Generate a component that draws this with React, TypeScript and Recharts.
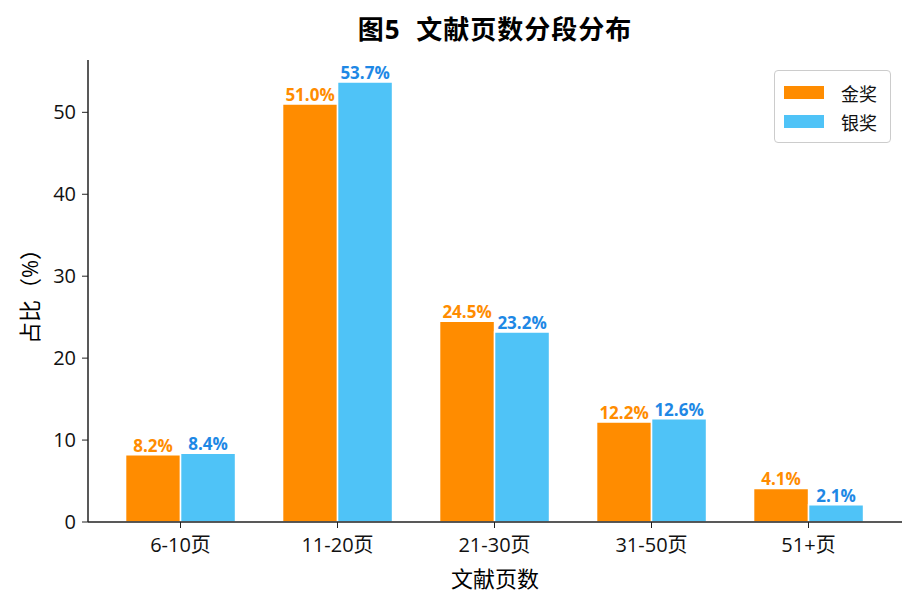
import React from "react";
import { BarChart, Bar, XAxis, YAxis, LabelList } from "recharts";

const categories = ["6-10页", "11-20页", "21-30页", "31-50页", "51+页"];
const gold = [8.2, 51.0, 24.5, 12.2, 4.1];
const silver = [8.4, 53.7, 23.2, 12.6, 2.1];
const yTicks = [0, 10, 20, 30, 40, 50];

const data = categories.map((c, i) => ({ cat: c, gold: gold[i], silver: silver[i] }));

const FONT = "'Open Sans', 'Noto Sans CJK SC', sans-serif";
const ORANGE = "#FF8C00";
const BLUE = "#4FC3F7";

function LegendBox() {
  const items = [
    { name: "金奖", color: ORANGE },
    { name: "银奖", color: BLUE },
  ];
  return (
    <div
      style={{
        position: "absolute",
        left: 766,
        top: 62,
        width: 117,
        height: 73,
        border: "1px solid #cccccc",
        borderRadius: 4,
        background: "#fff",
        boxSizing: "border-box",
        paddingTop: 7,
        fontFamily: FONT,
      }}
    >
      {items.map((it) => (
        <div key={it.name} style={{ display: "flex", alignItems: "center", height: 29 }}>
          <div style={{ width: 40, height: 13, background: it.color, marginLeft: 9 }} />
          <span style={{ marginLeft: 17, fontSize: 18, color: "#111" }}>{it.name}</span>
        </div>
      ))}
    </div>
  );
}

export default function App() {
  return (
    <div style={{ position: "relative", width: 900, height: 594, fontFamily: FONT }}>
      <div
        style={{
          position: "absolute",
          left: 80,
          width: 814,
          top: 7,
          lineHeight: "28px",
          textAlign: "center",
          fontSize: 26,
          fontWeight: "bold",
          letterSpacing: 1,
          color: "#000",
        }}
      >
        图5&nbsp;&nbsp;文献页数分段分布
      </div>
      <div
        style={{
          position: "absolute",
          left: 20,
          top: 283,
          transform: "translate(-50%, -50%) rotate(-90deg)",
          fontSize: 22,
          whiteSpace: "nowrap",
          color: "#000",
        }}
      >
        占比（%）
      </div>
      <div
        style={{
          position: "absolute",
          left: 80,
          width: 814,
          top: 559,
          lineHeight: "22px",
          textAlign: "center",
          fontSize: 22,
          color: "#000",
        }}
      >
        文献页数
      </div>
      <BarChart
        width={900}
        height={594}
        data={data}
        margin={{ top: 52, right: 6, left: 0, bottom: 0 }}
        barCategoryGap="15%"
        barGap={0}
      >
        <XAxis
          dataKey="cat"
          height={80}
          padding={{ left: 14, right: 15 }}
          tickLine={{ stroke: "#222" }}
          tickSize={6}
          tickMargin={10}
          axisLine={{ stroke: "#222", strokeWidth: 1.5 }}
          tick={{ fill: "#111", fontSize: 20, fontFamily: FONT }}
        />
        <YAxis
          width={80}
          domain={[0, 56.385]}
          ticks={yTicks}
          allowDataOverflow
          tickLine={{ stroke: "#222" }}
          tickSize={6}
          tickMargin={6}
          axisLine={{ stroke: "#222", strokeWidth: 1.5 }}
          tick={{ fill: "#111", fontSize: 20, fontFamily: FONT }}
        />
        <Bar dataKey="gold" name="金奖" fill={ORANGE} stroke="#fff" strokeWidth={1.5} isAnimationActive={false}>
          <LabelList
            dataKey="gold"
            position="top"
            offset={3}
            formatter={(v: number) => v.toFixed(1) + "%"}
            style={{ fill: ORANGE, fontSize: 17, fontWeight: "bold", fontFamily: FONT }}
          />
        </Bar>
        <Bar dataKey="silver" name="银奖" fill={BLUE} stroke="#fff" strokeWidth={1.5} isAnimationActive={false}>
          <LabelList
            dataKey="silver"
            position="top"
            offset={3}
            formatter={(v: number) => v.toFixed(1) + "%"}
            style={{ fill: "#1E88E5", fontSize: 17, fontWeight: "bold", fontFamily: FONT }}
          />
        </Bar>
      </BarChart>
      <LegendBox />
    </div>
  );
}
